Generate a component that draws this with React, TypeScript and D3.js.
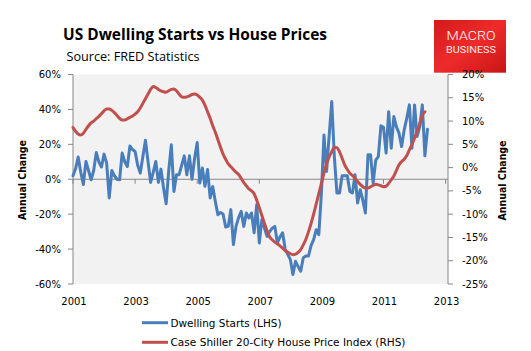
import React from "react";
import * as d3 from "d3";

const startYear = 2001;
const yearTicks = [2001, 2003, 2005, 2007, 2009, 2011, 2013];
const leftTicks = [60, 40, 20, 0, -20, -40, -60];
const rightTicks = [20, 15, 10, 5, 0, -5, -10, -15, -20, -25];

// Dwelling starts, annual % change, monthly from Jan 2001 (LHS)
const dwellingStarts = [
  2, 6, 12.7, 4, -3, 10.2, 5, -0.3, 5, 15.3, 10, 7,
  14.4, 9.2, -10.7, 5, 2, 0, -0.3, 15, 10, 7.3, 19.1, 17,
  15.9, 8, 3.5, 13, 22.4, 10, -1.8, 4, 10.2, -1.8, 5.8, -5,
  -14, 5, 19.7, -7, 2.6, 2.6, 8, 13.4, 2.6, 13.4, 0, 12,
  21, -2.2, 6.4, -4, 5.6, -10.7, -4.1, -12.7, -20.3, -19, -19.9, -27.3,
  -27, -17.4, -37.4, -27, -22, -18.4, -27, -19.3, -22.2, -19.3, -30.7, -14.6,
  -36.5, -23, -28, -32.7, -30, -28, -27, -36.5, -33, -30.7, -40, -43,
  -46, -54.6, -47, -50, -52.7, -45, -44, -44, -38, -34.6, -28.9, -31.7,
  -7.9, 25.4, 4.5, 25, 44.5, 13, -7.9, -7.9, 2, 2, 2, -7,
  -7.9, 2.6, -13.6, -6, -12, -19.3, 14, 14, -2.2, 11, 13, 30.6,
  29.8, 15, 38.7, 17.8, 35.9, 30, 26.4, 18.7, 28.3, 35, 42.6, 17.8,
  42.6, 24.5, 30, 42.6, 13.4, 28.7,
];

// Case Shiller 20-City index, annual % change, monthly from Jan 2001 (RHS)
const caseShiller = [
  8.6, 7.8, 7.2, 7.0, 7.4, 8.2, 9.0, 9.6, 10.0, 10.5, 11.0, 11.6,
  12.2, 12.6, 12.6, 12.3, 11.8, 11.2, 10.6, 10.2, 10.2, 10.5, 10.8, 11.1,
  11.5, 12.0, 12.8, 13.8, 14.8, 15.8, 16.8, 17.4, 17.2, 16.8, 16.5, 16.3,
  16.2, 16.5, 16.8, 16.9, 16.5, 15.8, 15.2, 15.1, 15.2, 15.4, 15.7, 15.8,
  15.6, 15.1, 14.5, 13.4, 12.0, 10.6, 9.0, 7.6, 6.0, 4.4, 2.9, 1.8,
  0.8, 0.2, -0.4, -1.0, -1.5, -2.3, -3.2, -3.9, -4.6, -5.0, -5.6, -7.0,
  -8.6, -10.3, -12.0, -13.6, -14.9, -15.5, -16.0, -16.4, -16.8, -17.3, -17.8, -18.2,
  -18.5, -18.7, -18.6, -18.2, -17.6, -16.6, -15.4, -13.8, -12.0, -10.0, -7.8, -5.6,
  -3.4, -1.2, 0.8, 2.3, 3.4, 4.4, 4.3, 3.4, 2.0, 0.6, -0.4, -1.2,
  -1.7, -2.3, -3.0, -3.6, -4.1, -4.4, -4.4, -4.1, -3.8, -3.6, -3.7, -3.9,
  -4.1, -4.0, -3.4, -2.6, -1.8, -0.6, 0.6, 1.3, 1.8, 2.6, 3.8, 5.0,
  6.3, 7.8, 9.4, 11.2, 12.0,
];

const seriesNames = ["Dwelling Starts (LHS)", "Case Shiller 20-City House Price Index (RHS)"];

const BLUE = "#4a7ebb";
const RED = "#c0504d";
const AXIS = "#868686";
const FONT = "'DejaVu Sans', Tahoma, sans-serif";

export default function App() {
  const W = 531, H = 351;
  const plotL = 73, plotR = 448, plotT = 74.5, plotB = 284;
  const x = d3.scaleLinear().domain([2001, 2013]).range([73, 445.6]);
  const yL = d3.scaleLinear().domain([-60, 60]).range([plotB, plotT]);
  const yR = d3.scaleLinear().domain([-25, 20]).range([plotB, plotT]);
  const t = (i: number) => startYear + i / 12;

  const blueLine = d3.line<number>().x((_, i) => x(t(i))).y((d) => yL(d)).curve(d3.curveLinear);
  const redLine = d3.line<number>().x((_, i) => x(t(i))).y((d) => yR(d)).curve(d3.curveMonotoneX);
  const y0 = yL(0);

  return (
    <svg width={W} height={H} style={{ position: "absolute", left: 0, top: 0, background: "#fff" }}>
      <defs>
        <linearGradient id="logoGrad" x1="0" y1="0" x2="1" y2="1">
          <stop offset="0" stopColor="#d41a1a" />
          <stop offset="0.5" stopColor="#ee2b2b" />
          <stop offset="1" stopColor="#c91515" />
        </linearGradient>
      </defs>
      <rect x={0} y={0} width={W} height={H} fill="#fff" />
      {/* Title */}
      <text x={63} y={40} fontFamily="'Open Sans', sans-serif" fontWeight="bold" fontSize={16.5}
        textLength={264} lengthAdjust="spacingAndGlyphs" fill="#000">US Dwelling Starts vs House Prices</text>
      <text x={66.5} y={61} fontFamily="'Open Sans', sans-serif" fontSize={12.5}
        textLength={133} lengthAdjust="spacingAndGlyphs" fill="#000">Source: FRED Statistics</text>
      {/* Logo */}
      <rect x={434} y={20} width={72} height={52.7} fill="url(#logoGrad)" />
      <text x={471} y={39.5} textAnchor="middle" fontFamily="Roboto, sans-serif" fontSize={13.5} fontWeight={300}
        fill="#fff" textLength={49} lengthAdjust="spacingAndGlyphs">MACRO</text>
      <text x={471} y={52.7} textAnchor="middle" fontFamily="Roboto, sans-serif" fontSize={8.5}
        fill="#fff" textLength={50} lengthAdjust="spacingAndGlyphs" opacity={0.9}>BUSINESS</text>

      {/* Plot area */}
      <rect x={plotL} y={plotT} width={plotR - plotL} height={plotB - plotT} fill="#f2f2f2" />

      {/* Left axis */}
      <line x1={plotL} x2={plotL} y1={plotT} y2={plotB} stroke={AXIS} strokeWidth={1} />
      {leftTicks.map((v) => (
        <g key={"l" + v}>
          <line x1={plotL - 5} x2={plotL} y1={yL(v)} y2={yL(v)} stroke={AXIS} />
          <text x={61} y={yL(v) + 3.6} textAnchor="end" fontFamily={FONT} fontSize={10} fill="#000">{v}%</text>
        </g>
      ))}
      {/* Right axis */}
      <line x1={plotR} x2={plotR} y1={plotT} y2={plotB} stroke={AXIS} strokeWidth={1} />
      {rightTicks.map((v) => (
        <g key={"r" + v}>
          <line x1={plotR} x2={plotR + 5} y1={yR(v)} y2={yR(v)} stroke={AXIS} />
          <text x={462} y={yR(v) + 3.6} textAnchor="start" fontFamily={FONT} fontSize={10} fill="#000">{v}%</text>
        </g>
      ))}

      {/* Category axis at zero */}
      <line x1={plotL} x2={plotR} y1={y0} y2={y0} stroke={AXIS} strokeWidth={1} />
      {yearTicks.map((yr) => (
        <g key={"x" + yr}>
          <line x1={x(yr)} x2={x(yr)} y1={y0} y2={y0 + 4.5} stroke={AXIS} />
          <text x={x(yr) + 1} y={305} textAnchor="middle" fontFamily={FONT} fontSize={10} fill="#000">{yr}</text>
        </g>
      ))}

      {/* Axis titles */}
      <text transform={`translate(26,180) rotate(-90)`} textAnchor="middle" fontFamily={FONT} fontWeight="bold"
        fontSize={10} fill="#000" textLength={80} lengthAdjust="spacingAndGlyphs">Annual Change</text>
      <text transform={`translate(505.5,180.5) rotate(-90)`} textAnchor="middle" fontFamily={FONT} fontWeight="bold"
        fontSize={10} fill="#000" textLength={80} lengthAdjust="spacingAndGlyphs">Annual Change</text>

      {/* Series */}
      <path d={blueLine(dwellingStarts) || ""} fill="none" stroke={BLUE} strokeWidth={3} strokeLinejoin="round" strokeLinecap="round" />
      <path d={redLine(caseShiller) || ""} fill="none" stroke={RED} strokeWidth={3} strokeLinejoin="round" strokeLinecap="round" />

      {/* Legend */}
      <line x1={142} x2={168} y1={322.7} y2={322.7} stroke={BLUE} strokeWidth={3} />
      <text x={170.5} y={326.5} fontFamily={FONT} fontSize={10.5} fill="#000" textLength={111} lengthAdjust="spacingAndGlyphs">{seriesNames[0]}</text>
      <line x1={142} x2={168} y1={342.3} y2={342.3} stroke={RED} strokeWidth={3} />
      <text x={170.5} y={346} fontFamily={FONT} fontSize={10.5} fill="#000" textLength={235} lengthAdjust="spacingAndGlyphs">{seriesNames[1]}</text>
    </svg>
  );
}
